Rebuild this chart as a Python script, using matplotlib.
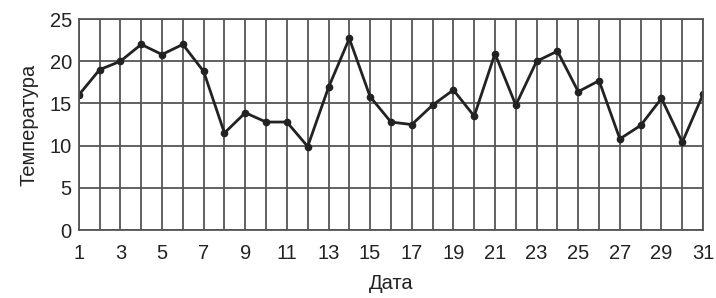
import matplotlib
matplotlib.use("Agg")
import matplotlib.pyplot as plt

days = list(range(1, 32))
temps = [16.0, 19.0, 20.0, 22.0, 20.8, 22.0, 18.8, 11.5, 13.9, 12.8, 12.8,
         9.9, 16.9, 22.7, 15.8, 12.8, 12.5, 14.8, 16.6, 13.5, 20.9,
         14.8, 20.0, 21.2, 16.4, 17.7, 10.8, 12.4, 15.6, 10.4, 16.1]
xticks = list(range(1, 32, 2))
yticks = [0, 5, 10, 15, 20, 25]

plt.rcParams['font.family'] = ['Liberation Sans', 'DejaVu Sans']

fig = plt.figure(figsize=(7.16, 2.98), dpi=100)
ax = fig.add_axes([0.110, 0.228, 0.872, 0.708])

ax.plot(days, temps, color='#222222', lw=2.0, marker='o', ms=4.5)
ax.set_xlim(1, 31)
ax.set_ylim(0, 25)
ax.set_xticks(days, minor=False)
ax.set_xticklabels([str(d) if d in xticks else '' for d in days])
ax.set_yticks(yticks)
ax.grid(True, color='#555555', lw=1.3)
ax.tick_params(length=0, labelsize=14.5, colors='#222222')
ax.tick_params(axis='x', pad=10)
ax.tick_params(axis='y', pad=5)
for s in ax.spines.values():
    s.set_color('#555555')
    s.set_linewidth(1.3)
ax.set_xlabel('Дата', fontsize=14.5, color='#222222', labelpad=8)
ax.set_ylabel('Температура', fontsize=14.5, color='#222222', labelpad=8)

fig.savefig('out.png', dpi=100)
